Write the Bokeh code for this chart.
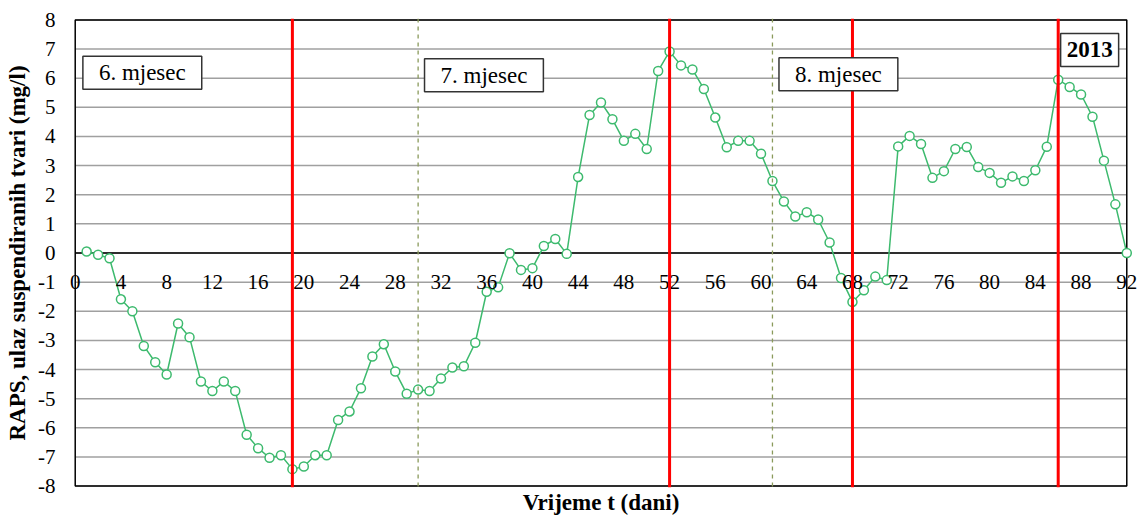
from bokeh.plotting import figure
from bokeh.models import Span, Label, FixedTicker, ColumnDataSource, Range1d, LinearAxis
from bokeh.embed import file_html
from bokeh.resources import INLINE

days = list(range(1, 93))
raps = [0.05, -0.06, -0.18, -1.59, -2.0, -3.19, -3.75, -4.17, -2.42, -2.89,
        -4.41, -4.74, -4.41, -4.74, -6.24, -6.70, -7.03, -6.94, -7.42, -7.33,
        -6.94, -6.94, -5.73, -5.44, -4.64, -3.55, -3.13, -4.07, -4.83, -4.69,
        -4.74, -4.31, -3.93, -3.89, -3.08, -1.33, -1.18, -0.01, -0.58, -0.52,
        0.24, 0.48, -0.03, 2.61, 4.74, 5.17, 4.59, 3.85, 4.09, 3.57,
        6.25, 6.92, 6.44, 6.30, 5.63, 4.65, 3.63, 3.85, 3.85, 3.41,
        2.47, 1.77, 1.25, 1.40, 1.15, 0.36, -0.86, -1.68, -1.28, -0.81,
        -0.93, 3.66, 4.02, 3.74, 2.58, 2.81, 3.57, 3.64, 2.95, 2.75,
        2.41, 2.63, 2.47, 2.84, 3.65, 5.95, 5.70, 5.44, 4.68, 3.17,
        1.67, 0.0]

x_min, x_max = 0, 92
y_min, y_max = -8, 8
x_ticks = list(range(0, 93, 4))
y_ticks = list(range(-8, 9))
red_lines = [19, 52, 68, 86]
dashed_lines = [30, 61]
month_labels = ["6. mjesec", "7. mjesec", "8. mjesec"]
month_label_x = [5.87, 35.76, 66.77]
month_label_y = [6.19, 6.10, 6.14]
year_label = "2013"
year_label_x = 88.75
year_label_y = 6.97
x_title = "Vrijeme t (dani)"
y_title = "RAPS, ulaz suspendiranih tvari (mg/l)"

SERIF = "'Times New Roman', 'Liberation Serif', serif"
XPAD = 1.2   # room so that the end tick labels are not cut
YPAD = 0.05

p = figure(width=1140, height=517, output_backend="svg", toolbar_location=None,
           x_range=Range1d(x_min - XPAD, x_max + XPAD),
           y_range=Range1d(y_min - YPAD, y_max + YPAD),
           min_border_left=61, min_border_right=0, min_border_top=18, min_border_bottom=28)

p.outline_line_color = None
p.background_fill_color = "white"
p.border_fill_color = "white"
p.xgrid.grid_line_color = None
p.ygrid.grid_line_color = None

# horizontal grid lines and plot-area frame, limited to the data area
p.segment(x0=[x_min] * len(y_ticks), x1=[x_max] * len(y_ticks), y0=y_ticks, y1=y_ticks,
          line_color="#a0a0a0", line_width=1.5)
p.segment(x0=[x_min], x1=[x_max], y0=[0], y1=[0], line_color="black", line_width=1.5)
p.quad(left=[x_min], right=[x_max], bottom=[y_min], top=[y_max],
       fill_color=None, line_color="black", line_width=1.5)

# Y axis
p.yaxis.ticker = FixedTicker(ticks=y_ticks)
p.yaxis.major_label_overrides = {v: str(v) for v in y_ticks}
p.yaxis.axis_line_color = None
p.yaxis.major_tick_line_color = None
p.yaxis.minor_tick_line_color = None
p.yaxis.major_tick_out = 0
p.yaxis.major_tick_in = 0
p.yaxis.major_label_standoff = 6
p.yaxis.major_label_text_font = SERIF
p.yaxis.major_label_text_font_size = "21px"
p.yaxis.major_label_text_color = "black"
p.yaxis.axis_label = y_title
p.yaxis.axis_label_text_font = SERIF
p.yaxis.axis_label_text_font_style = "bold"
p.yaxis.axis_label_text_font_size = "23px"
p.yaxis.axis_label_standoff = 5
p.yaxis.axis_label_text_color = "black"

# X axis drawn on the zero line (tick labels only)
xa = p.xaxis[0]
xa.fixed_location = 0
xa.ticker = FixedTicker(ticks=x_ticks)
xa.axis_line_color = None
xa.major_tick_line_color = None
xa.minor_tick_line_color = None
xa.major_tick_out = 0
xa.major_tick_in = 0
xa.major_label_standoff = 22
xa.major_label_text_font = SERIF
xa.major_label_text_font_size = "21px"
xa.major_label_text_color = "black"

# Bottom axis carrying only the title
ta = LinearAxis(ticker=FixedTicker(ticks=[]), axis_label=x_title,
                axis_line_color=None, major_tick_line_color=None, minor_tick_line_color=None,
                major_tick_out=0, major_tick_in=0, major_label_standoff=0,
                major_label_text_font_size="0px", axis_label_standoff=2,
                axis_label_text_font=SERIF, axis_label_text_font_style="bold",
                axis_label_text_font_size="23px", axis_label_text_color="black")
p.add_layout(ta, "below")

for d in dashed_lines:
    p.add_layout(Span(location=d, dimension="height", line_color="#8a9a5b",
                      line_width=1.3, line_dash="4 4"))

src = ColumnDataSource(dict(x=days, y=raps))
p.line("x", "y", source=src, line_color="#3dba6e", line_width=1.5)
p.scatter("x", "y", source=src, size=9, marker="circle", fill_color="white",
          line_color="#3dba6e", line_width=1.5)

for d in red_lines:
    p.add_layout(Span(location=d, dimension="height", line_color="#ff0000", line_width=3))

for t, lx, ly in zip(month_labels, month_label_x, month_label_y):
    p.add_layout(Label(x=lx, y=ly, text=t, text_font=SERIF, text_font_size="23px",
                       text_align="center", text_baseline="middle", text_color="black",
                       border_line_color="#333333", border_line_width=1.5,
                       background_fill_color="white",
                       padding=dict(left=16, right=16, top=4, bottom=4)))

p.add_layout(Label(x=year_label_x, y=year_label_y, text=year_label, text_font=SERIF,
                   text_font_size="23px", text_font_style="bold",
                   text_align="center", text_baseline="middle", text_color="black",
                   border_line_color="#333333", border_line_width=1.5,
                   background_fill_color="white",
                   padding=dict(left=6, right=6, top=9, bottom=9)))

open("out.html", "w").write(file_html(p, INLINE))
